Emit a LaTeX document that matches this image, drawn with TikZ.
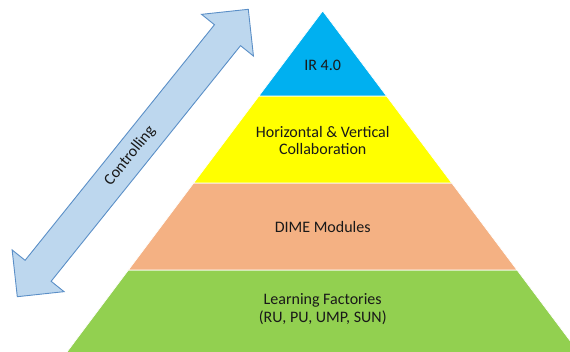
\documentclass[tikz,border=0pt]{standalone}
\usepackage{fontspec}
\setmainfont{Carlito}
\definecolor{lvlblue}{HTML}{00B0F0}
\definecolor{lvlyellow}{HTML}{FFFF00}
\definecolor{lvlorange}{HTML}{F4B183}
\definecolor{lvlgreen}{HTML}{92D050}
\definecolor{arrowfill}{HTML}{BDD7EE}
\definecolor{arrowline}{HTML}{5B8FC7}
\begin{document}
\begin{tikzpicture}[x=1pt,y=-1pt,
  layer/.style={draw=white,line width=0.6pt},
  lbl/.style={font=\fontsize{16}{17.5}\selectfont,align=center,text=black!90,inner sep=0pt},
  ctrlarrow/.style={fill=arrowfill,draw=arrowline,line width=0.9pt,line join=miter}]
\useasboundingbox (0,0) rectangle (570,352);
\begin{scope}
\clip (0,0) rectangle (570,352);
\fill[lvlgreen,layer] (128.45,270) -- (516.95,270) -- (600,380.7) -- (45.5,380.7) -- cycle;
\fill[lvlorange,layer] (193.7,183) -- (451.7,183) -- (516.95,270) -- (128.45,270) -- cycle;
\fill[lvlyellow,layer] (258.95,96) -- (386.45,96) -- (451.7,183) -- (193.7,183) -- cycle;
\fill[lvlblue,layer] (322.7,11) -- (386.45,96) -- (258.95,96) -- cycle;
\end{scope}
\node[lbl] (ir) at (322.7,65) {IR 4.0};
\node[lbl] (hv) at (322.7,140.5) {Horizontal \& Vertical\\Collaboration};
\node[lbl] (dime) at (322.7,226.7) {DIME Modules};
\node[lbl] (lf) at (322.7,309) {Learning Factories\\(RU, PU, UMP, SUN)};
\draw[ctrlarrow] (17.3,296.7) -- (64.06,291.66) -- (51.12,281.26) -- (240.52,45.66)
  -- (253.46,56.06) -- (248.3,9.3) -- (201.54,14.34) -- (214.48,24.74)
  -- (25.08,260.34) -- (12.14,249.94) -- cycle;
\node[lbl,rotate=51.2] (ctrl) at (130,156) {Controlling};
\end{tikzpicture}
\end{document}
